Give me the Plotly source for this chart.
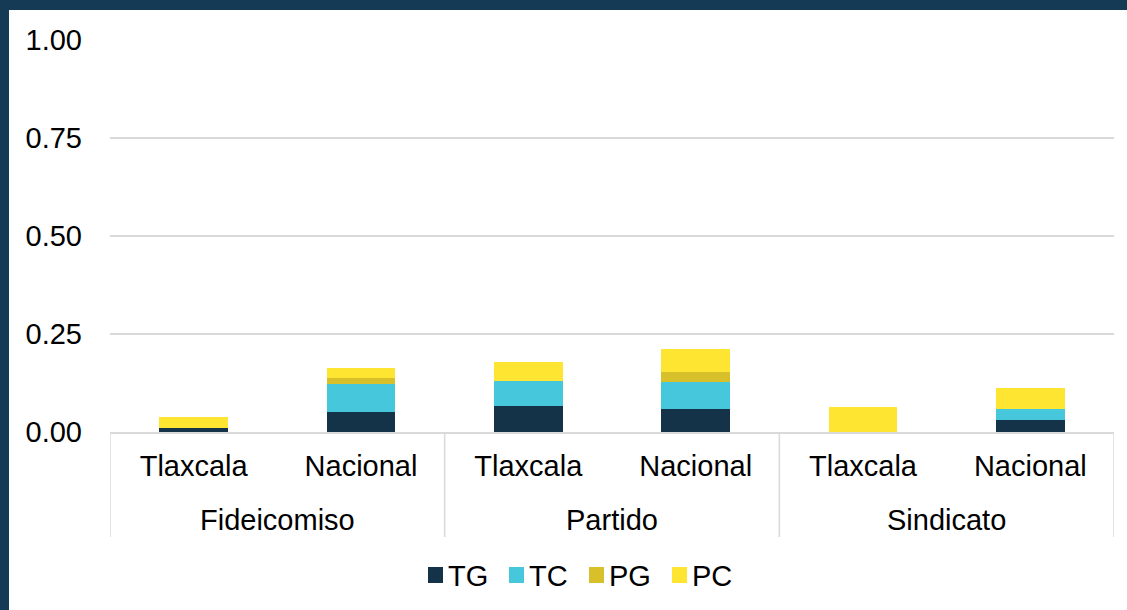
import plotly.graph_objects as go

# Categories (group / region)
grupos = ["Fideicomiso", "Fideicomiso", "Partido", "Partido", "Sindicato", "Sindicato"]
ambitos = ["Tlaxcala", "Nacional", "Tlaxcala", "Nacional", "Tlaxcala", "Nacional"]

# Stacked components
tg = [0.009, 0.050, 0.067, 0.058, 0.000, 0.031]
tc = [0.000, 0.072, 0.063, 0.070, 0.000, 0.028]
pg = [0.000, 0.015, 0.000, 0.024, 0.000, 0.000]
pc = [0.030, 0.027, 0.048, 0.059, 0.064, 0.053]

y_ticks = [0, 0.25, 0.5, 0.75, 1.0]
y_ticktext = ["0.00", "0.25", "0.50", "0.75", "1.00"]

series = [
    ("TG", tg, "#143349"),
    ("TC", tc, "#46c7dc"),
    ("PG", pg, "#d8c02a"),
    ("PC", pc, "#fde531"),
]

FONT = "Liberation Sans, Arial, sans-serif"
FS = 29
W, H = 1127, 610
ML, MR, MT, MB = 110, 13, 40, 178
PW, PH = W - ML - MR, H - MT - MB
NAVY = "#143a55"
GRID = "#d9d9d9"


def px_to_paper_x(px):
    return (px - ML) / PW


def px_to_paper_y(py):
    return (MT + PH - py) / PH


# unique category keys, labelled by region on the axis
keys = [f"{g}·{a}" for g, a in zip(grupos, ambitos)]

fig = go.Figure()
for name, vals, color in series:
    fig.add_trace(go.Bar(
        name=name, x=keys, y=vals,
        marker=dict(color=color, line=dict(width=0)),
        showlegend=False,
    ))

# Group labels and divider lines below the category axis
group_names = list(dict.fromkeys(grupos))
bounds = [-0.5]
for gname in group_names:
    idx = [i for i, g in enumerate(grupos) if g == gname]
    fig.add_annotation(
        x=(idx[0] + idx[-1]) / 2, xref="x", y=px_to_paper_y(520), yref="paper",
        text=gname, showarrow=False, yanchor="middle", xanchor="center",
        font=dict(family=FONT, size=FS, color="#000000"),
    )
    bounds.append(idx[-1] + 0.5)
for b in bounds:
    fig.add_shape(type="line", xref="x", yref="paper",
                  x0=b, x1=b, y0=0, y1=px_to_paper_y(537),
                  line=dict(color=GRID, width=1.5))

# Legend: coloured squares followed by the series name
leg_starts = [428, 509, 589, 672]
for (name, _, color), x0 in zip(series, leg_starts):
    fig.add_shape(type="rect", xref="paper", yref="paper",
                  x0=px_to_paper_x(x0), x1=px_to_paper_x(x0 + 15),
                  y0=px_to_paper_y(583), y1=px_to_paper_y(567),
                  fillcolor=color, line=dict(width=0))
    fig.add_annotation(
        x=px_to_paper_x(x0 + 18), xref="paper", y=px_to_paper_y(576), yref="paper",
        text=name, showarrow=False, xanchor="left", yanchor="middle",
        font=dict(family=FONT, size=FS, color="#000000"),
    )

# Dark frame along the top and left edges of the figure
fig.add_shape(type="rect", xref="paper", yref="paper",
              x0=px_to_paper_x(0), x1=px_to_paper_x(9), y0=px_to_paper_y(H), y1=px_to_paper_y(0),
              fillcolor=NAVY, line=dict(width=0), layer="above")
fig.add_shape(type="rect", xref="paper", yref="paper",
              x0=px_to_paper_x(0), x1=px_to_paper_x(W), y0=px_to_paper_y(10), y1=px_to_paper_y(0),
              fillcolor=NAVY, line=dict(width=0), layer="above")

fig.update_layout(
    width=W, height=H,
    margin=dict(l=ML, r=MR, t=MT, b=MB),
    barmode="stack",
    bargap=0.59,
    paper_bgcolor="white",
    plot_bgcolor="white",
    font=dict(family=FONT, size=FS, color="#000000"),
    showlegend=False,
    xaxis=dict(
        type="category",
        tickvals=keys, ticktext=ambitos,
        showline=True, linecolor=GRID, linewidth=1.5,
        ticks="", ticklabelstandoff=7,
        tickfont=dict(family=FONT, size=FS, color="#000000"),
        showgrid=False,
        range=[-0.5, len(keys) - 0.5],
    ),
    yaxis=dict(
        range=[0, 1.0],
        tickvals=y_ticks, ticktext=y_ticktext,
        showgrid=True, gridcolor=GRID, gridwidth=1.5,
        zeroline=False, showline=False,
        ticklabelstandoff=27,
        tickfont=dict(family=FONT, size=FS, color="#000000"),
    ),
)

fig.write_html("out.html")
